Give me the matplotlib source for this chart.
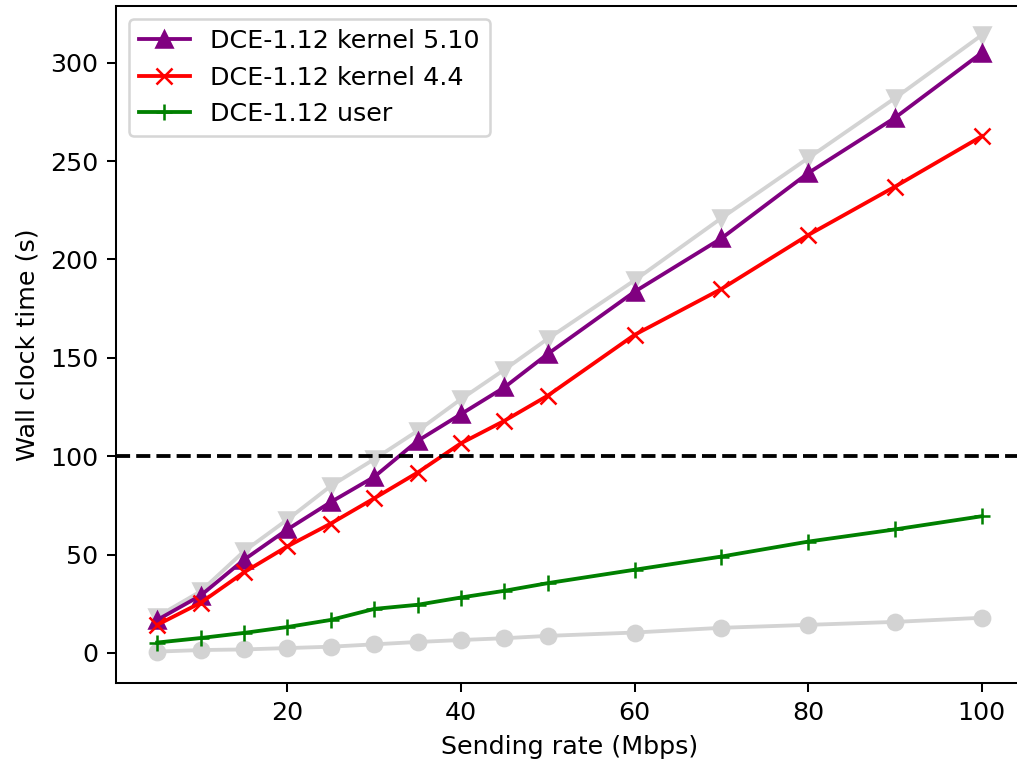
import matplotlib
matplotlib.use("Agg")
import matplotlib.pyplot as plt

# sending rate (Mbps)
rates = [5, 10, 15, 20, 25, 30, 35, 40, 45, 50, 60, 70, 80, 90, 100]

# wall clock time (s)
kernel_510 = [16.8, 29.2, 47.4, 62.8, 76.7, 89.5, 107.8, 121.4, 135, 152, 183.6, 210.7, 243.9, 272, 305]
kernel_44 = [14.3, 25.5, 41, 54.2, 65.8, 78.6, 91.7, 106.6, 118, 130.8, 161.7, 185, 212.4, 237, 262.6]
user = [5.3, 7.6, 10.2, 13.2, 16.8, 22.4, 24.5, 28.2, 31.6, 35.5, 42.3, 49, 56.6, 62.8, 69.5]
# grey reference runs, no legend entry
ref_top = [18.5, 31.3, 51.7, 67.8, 84.9, 98.5, 112.9, 129, 144, 159.7, 189.4, 221, 251.5, 282, 314]
ref_bottom = [0.7, 1.5, 1.8, 2.5, 3.2, 4.4, 5.6, 6.6, 7.5, 8.7, 10.4, 12.8, 14.3, 15.8, 17.9]

threshold = 100

# original was a default 6.4x4.8 figure at ~183 dpi, cropped
DPI = 183
W, H = 1017, 759
fig = plt.figure(figsize=(W / DPI, H / DPI), dpi=DPI)
ax = fig.add_axes([116 / W, 76 / H, (1023 - 116) / W, (683 - 6) / H])

ax.plot(rates, ref_top, color='lightgray', marker='v')
ax.plot(rates, ref_bottom, color='lightgray', marker='o')
ax.plot(rates, kernel_510, color='purple', marker='^', label='DCE-1.12 kernel 5.10')
ax.plot(rates, kernel_44, color='red', marker='x', label='DCE-1.12 kernel 4.4')
ax.plot(rates, user, color='green', marker='+', label='DCE-1.12 user')
ax.axhline(threshold, color='black', linestyle='--')

ax.set_xlim(0.25, 104.75)
ax.set_ylim(-15.25, 328.8)
ax.set_xticks([20, 40, 60, 80, 100])
ax.set_yticks([0, 50, 100, 150, 200, 250, 300])

ax.set_xlabel('Sending rate (Mbps)')
ax.set_ylabel('Wall clock time (s)')
ax.legend(loc='upper left')

fig.savefig('out.png', dpi=DPI)
